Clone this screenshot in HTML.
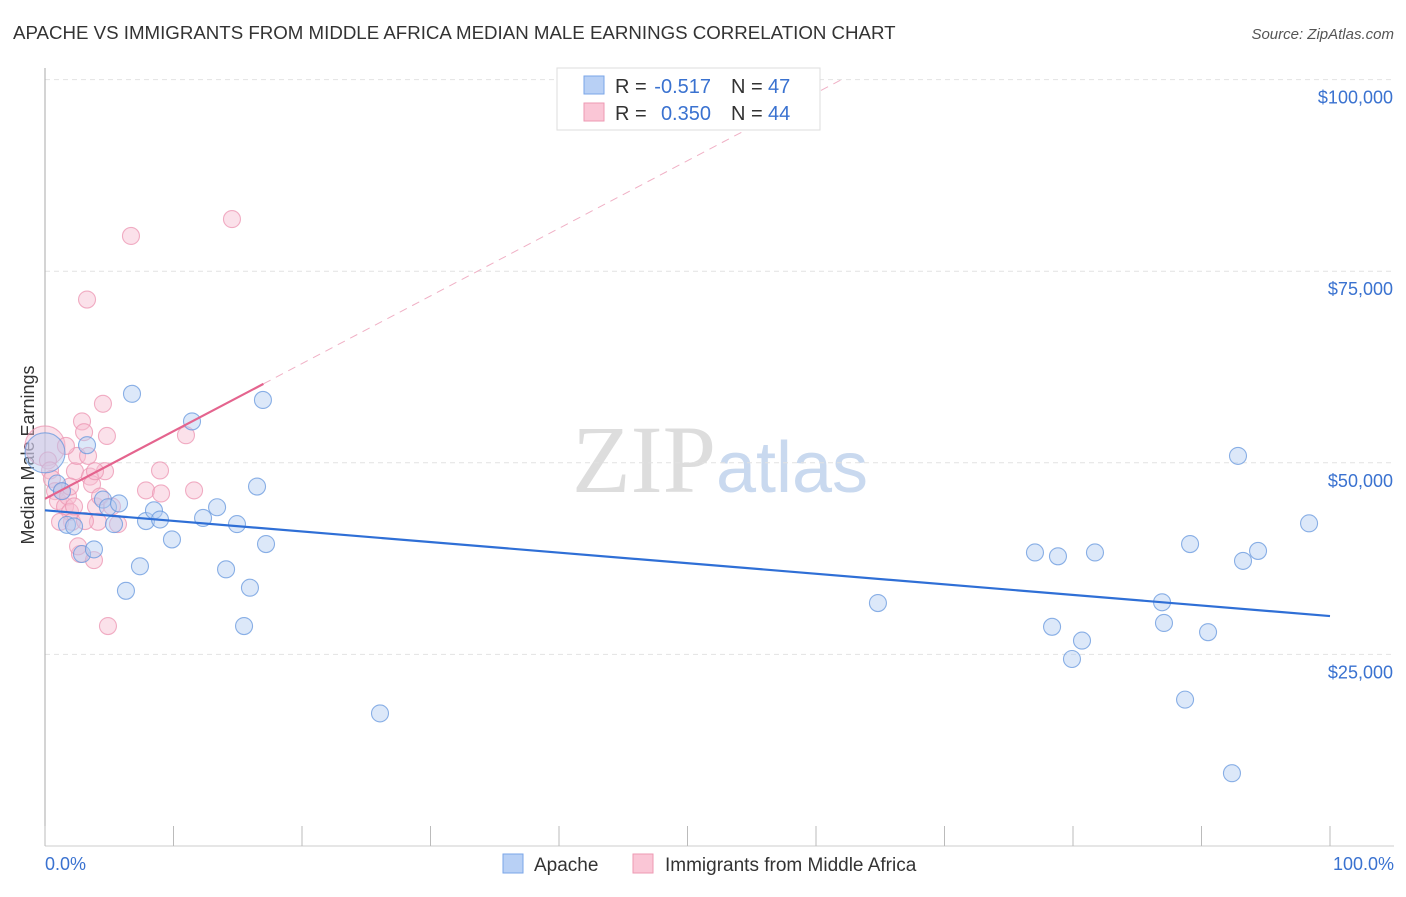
<!DOCTYPE html>
<html><head><meta charset="utf-8"><style>
body{margin:0;background:#fff;font-family:"Liberation Sans",sans-serif}
</style></head><body>
<svg width="1406" height="892" id="c" xmlns="http://www.w3.org/2000/svg">
<text x="13" y="39" font-size="18.7" fill="#333">APACHE VS IMMIGRANTS FROM MIDDLE AFRICA MEDIAN MALE EARNINGS CORRELATION CHART</text>
<text x="1394" y="39" font-size="15" fill="#555" font-style="italic" text-anchor="end">Source: ZipAtlas.com</text>
<text x="34" y="455" font-size="18" fill="#333" text-anchor="middle" transform="rotate(-90 34 455)">Median Male Earnings</text>
<text x="720" y="492" font-size="96" fill="#ddd" text-anchor="middle" font-family="Liberation Serif">ZIP<tspan fill="#c9d9ef" font-family="Liberation Sans" font-size="72">atlas</tspan></text>
<g id="grid"></g><g id="pts"></g><g id="lines"></g>
<g>
<rect x="557" y="68" width="263" height="62" fill="#fff" stroke="#ddd"/>
<rect x="584" y="76" width="20" height="18" fill="#b8d0f5" stroke="#7aa6e8"/>
<rect x="584" y="103" width="20" height="18" fill="#fac6d6" stroke="#ee99b3"/>
<text x="615" y="93" font-size="20" fill="#333">R =</text>
<text x="711" y="93" font-size="20" fill="#3a72d0" text-anchor="end">-0.517</text>
<text x="731" y="93" font-size="20" fill="#333">N =</text>
<text x="768" y="93" font-size="20" fill="#3a72d0">47</text>
<text x="615" y="120" font-size="20" fill="#333">R =</text>
<text x="711" y="120" font-size="20" fill="#3a72d0" text-anchor="end">0.350</text>
<text x="731" y="120" font-size="20" fill="#333">N =</text>
<text x="768" y="120" font-size="20" fill="#3a72d0">44</text>
</g>
<g>
<rect x="503" y="854" width="20" height="19" fill="#b8d0f5" stroke="#7aa6e8"/>
<text x="534" y="871" font-size="19" fill="#333">Apache</text>
<rect x="633" y="854" width="20" height="19" fill="#fac6d6" stroke="#ee99b3"/>
<text x="665" y="871" font-size="19" fill="#333">Immigrants from Middle Africa</text>
</g>
<text x="45" y="870" font-size="18" fill="#3a72d0">0.0%</text>
<text x="1394" y="870" font-size="18" fill="#3a72d0" text-anchor="end">100.0%</text>
</svg>
<script>
const yTicks=[25000,50000,75000,100000];
const yTickLabels=["$25,000","$50,000","$75,000","$100,000"];
const apacheX=[0,0.93,1.32,1.71,2.26,2.88,3.27,3.81,4.51,4.9,5.76,6.3,6.77,7.39,5.37,7.86,8.48,8.95,9.88,11.44,12.3,13.39,14.09,14.94,15.49,15.95,16.5,16.96,17.2,26.07,64.82,77.04,78.37,78.83,79.92,80.7,81.71,86.93,87.08,88.72,89.11,90.51,92.37,92.84,93.23,94.4,98.37];
const apacheY=[51300,47300,46300,41900,41700,38100,52300,38700,45200,44200,44700,33300,59000,36500,42000,42400,43800,42600,40000,55400,42800,44200,36100,42000,28700,33700,46900,58200,39400,17300,31700,38300,28600,37800,24400,26800,38300,31800,29100,19100,39400,27900,9500,50900,37200,38500,42100];
const immX=[0,0.23,0.39,0.54,0.78,1.01,1.32,1.56,1.79,1.95,2.1,2.33,2.49,2.72,2.88,3.04,3.27,3.35,3.5,3.66,3.81,3.97,4.12,4.28,4.51,4.67,4.82,4.9,5.21,5.68,6.69,7.86,8.95,9.03,10.97,11.6,14.55,1.17,1.63,2.26,2.57,3.11,3.89,1.95];
const immY=[52200,50300,49000,47900,46300,45000,46300,44300,45600,43600,42300,48900,50900,38100,55400,54000,71300,50900,48200,47200,37300,44300,42300,45600,57700,48900,53500,28700,44300,42000,79600,46400,49000,46000,53600,46400,81800,42300,52200,44300,39100,42400,48900,46900];
const blueLine=[0,43800,100,30000];
const pinkLine=[0,45300,17,60300];
const X0=45,X1=1330,YB=846,PX=191.6/25000;
const sx=v=>X0+(X1-X0)*v/100, sy=v=>YB-v*PX;
const NS="http://www.w3.org/2000/svg";
function mk(t,a,p){const e=document.createElementNS(NS,t);for(const k in a)e.setAttribute(k,a[k]);p.appendChild(e);return e;}
const g=document.getElementById('grid');
yTicks.forEach((v,i)=>{
 const l=mk('line',{x1:X0,x2:1394,y1:sy(v),y2:sy(v),stroke:'#e2e2e2','stroke-dasharray':'5,4'},g);
 
 
 const t=mk('text',{x:1393,y:sy(v)+24,'font-size':18,fill:'#3a72d0','text-anchor':'end'},g);
 t.textContent=yTickLabels[i];
 
 
});
mk('line',{x1:X0,x2:X0,y1:68,y2:846,stroke:'#aaa'},g);
mk('line',{x1:X0,x2:1394,y1:846,y2:846,stroke:'#ccc'},g);
for(let i=0;i<=10;i++){const l=mk('line',{x1:sx(i*10),x2:sx(i*10),y1:826,y2:846,stroke:'#bbb'},g);
 
 }
const p=document.getElementById('pts');
function pts(xs,ys,fill,st,name){xs.forEach((x,i)=>{const r=i==0?20:8.5;
 const c=mk('circle',{cx:sx(x),cy:sy(ys[i]),r:r,fill:fill,'fill-opacity':0.45,stroke:st,'stroke-opacity':0.75,'stroke-width':1.1},p);
 
 });}
pts(immX,immY,'#f7bcd0','#ec94b2','immigrants-point');
pts(apacheX,apacheY,'#b2cdf2','#6697de','apache-point');
const L=document.getElementById('lines');
let b=mk('line',{x1:sx(blueLine[0]),y1:sy(blueLine[1]),x2:sx(blueLine[2]),y2:sy(blueLine[3]),stroke:'#2f6fd6','stroke-width':2.2},L);


const sl=(pinkLine[3]-pinkLine[1])/(pinkLine[2]-pinkLine[0]);
const xe=(100000-pinkLine[1])/sl;
let d=mk('line',{x1:sx(pinkLine[2]),y1:sy(pinkLine[3]),x2:sx(xe),y2:sy(100000),stroke:'#f0b0c5','stroke-width':1,'stroke-dasharray':'8,6'},L);


let s=mk('line',{x1:sx(pinkLine[0]),y1:sy(pinkLine[1]),x2:sx(pinkLine[2]),y2:sy(pinkLine[3]),stroke:'#e4648e','stroke-width':2.2},L);


</script>
</body></html>
